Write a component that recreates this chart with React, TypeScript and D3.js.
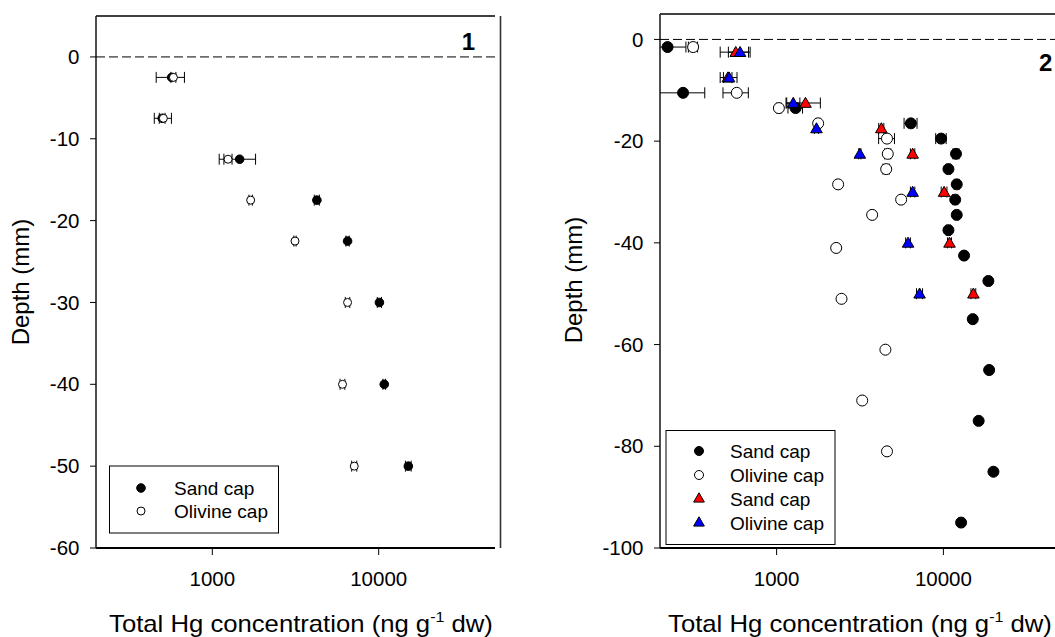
import React from "react";
import * as d3 from "d3";

// Panel 1: mean Hg concentration by depth for the two caps
const p1Depth = [-2.5, -7.5, -12.5, -17.5, -22.5, -30, -40, -50];
const p1Sand = [570, 500, 1460, 4250, 6500, 10100, 10800, 15070];
const p1SandErr = [110, 20, 360, 150, 150, 300, 200, 600];
const p1Olivine = [584, 508, 1244, 1700, 3140, 6500, 6060, 7130];
const p1OlivineErr = [20, 60, 70, 40, 50, 200, 200, 250];

// Panel 2: circle series
const p2SandDepth = [-1.5, -10.5, -13.5, -16.5, -19.5, -22.5, -25.5, -28.5, -31.5, -34.5, -37.5, -42.5, -47.5, -55, -65, -75, -85, -95];
const p2Sand = [222, 275, 1300, 6380, 9690, 11900, 10720, 12020, 11770, 12020, 10720, 13300, 18600, 15000, 18800, 16270, 19950, 12770];
const p2SandErr = [64, 96, 130, 570, 700, 500, 300, 400, 400, 300, 300, 300, 400, 300, 300, 300, 300, 300];

const p2OlivineDepth = [-1.5, -10.5, -13.5, -16.5, -19.5, -22.5, -25.5, -28.5, -31.5, -34.5, -41, -51, -61, -71, -81];
const p2Olivine = [316, 577, 1032, 1775, 4590, 4640, 4540, 2338, 5580, 3740, 2276, 2450, 4490, 3260, 4590];
const p2OlivineErr = [20, 100, 30, 50, 500, 200, 200, 50, 100, 50, 30, 30, 50, 50, 50];

// Panel 2: triangle series
const p2TriDepth = [-2.5, -7.5, -12.5, -17.5, -22.5, -30, -40, -50];
const p2SandTri = [569, 510, 1490, 4245, 6540, 10100, 10880, 15130];
const p2SandTriErr = [110, 30, 340, 150, 200, 400, 300, 500];
const p2OlivineTri = [604, 519, 1259, 1734, 3155, 6540, 6140, 7200];
const p2OlivineTriErr = [90, 60, 120, 50, 50, 200, 200, 300];

const p1YTicks = [0, -10, -20, -30, -40, -50, -60];
const p2YTicks = [0, -20, -40, -60, -80, -100];
const xTicks = [1000, 10000];
const legendLabels = ["Sand cap", "Olivine cap"];

const FONT = "'Liberation Sans', Arial, sans-serif";

type Pt = { v: number; d: number; e: number };
const zip = (vals: number[], depths: number[], errs: number[]): Pt[] =>
  vals.map((v, i) => ({ v, d: depths[i], e: errs[i] }));

const triPath = d3.symbol().type(d3.symbolTriangle).size(58)() as string;
const triLegend = d3.symbol().type(d3.symbolTriangle).size(50)() as string;

function ErrorBars({ pts, x, y, cap }: { pts: Pt[]; x: any; y: any; cap: number }) {
  const [lo] = x.domain();
  return (
    <g stroke="#000" strokeWidth={1}>
      {pts.map((p, i) => {
        const x0 = x(Math.max(p.v - p.e, lo));
        const x1 = x(p.v + p.e);
        const yy = y(p.d);
        return (
          <g key={i}>
            <line x1={x0} x2={x1} y1={yy} y2={yy} />
            {p.v - p.e > lo && <line x1={x0} x2={x0} y1={yy - cap} y2={yy + cap} />}
            <line x1={x1} x2={x1} y1={yy - cap} y2={yy + cap} />
          </g>
        );
      })}
    </g>
  );
}

function Circles({ pts, x, y, r, fill }: { pts: Pt[]; x: any; y: any; r: number; fill: string }) {
  return (
    <g>
      {pts.map((p, i) => (
        <circle key={i} cx={x(p.v)} cy={y(p.d)} r={r} fill={fill} stroke="#000" strokeWidth={1} />
      ))}
    </g>
  );
}

function Triangles({ pts, x, y, fill }: { pts: Pt[]; x: any; y: any; fill: string }) {
  return (
    <g>
      {pts.map((p, i) => (
        <path key={i} d={triPath} transform={`translate(${x(p.v)},${y(p.d) + 1})`} fill={fill} stroke="#000" strokeWidth={1} />
      ))}
    </g>
  );
}

function Axes({ x, y, yTicks, left, top, right, bottom, rightLine }: any) {
  return (
    <g fontFamily={FONT}>
      {/* frame */}
      <line x1={left} x2={right} y1={top} y2={top} stroke="#000" strokeWidth={1.3} />
      <line x1={left} x2={left} y1={top} y2={bottom} stroke="#222" strokeWidth={1.6} />
      <line x1={left} x2={right} y1={bottom} y2={bottom} stroke="#000" strokeWidth={1.8} />
      {rightLine != null && (
        <line x1={rightLine} x2={rightLine} y1={top} y2={bottom} stroke="#333" strokeWidth={1.6} />
      )}
      {/* zero line */}
      <line x1={left} x2={right} y1={y(0)} y2={y(0)} stroke="#000" strokeWidth={1} strokeDasharray="9,4" />
      {yTicks.map((t: number) => (
        <g key={t}>
          <line x1={left - 6} x2={left} y1={y(t)} y2={y(t)} stroke="#000" strokeWidth={1} />
          <text x={left - 16.5} y={y(t)} dy="0.35em" textAnchor="end" fontSize={20.5}>
            {t}
          </text>
        </g>
      ))}
      {xTicks.map((t) => (
        <g key={t}>
          <line x1={x(t)} x2={x(t)} y1={bottom} y2={bottom + 7} stroke="#000" strokeWidth={1} />
          <text x={x(t)} y={586} textAnchor="middle" fontSize={20.5}>
            {t}
          </text>
        </g>
      ))}
    </g>
  );
}

function XTitle({ cx }: { cx: number }) {
  return (
    <g transform={`translate(${cx},632) scale(1.07,1)`}>
      <text x={0} y={0} textAnchor="middle" fontFamily={FONT} fontSize={24}>
        Total Hg concentration (ng g
        <tspan fontSize={15} dy={-10}>-1</tspan>
        <tspan dy={10}> dw)</tspan>
      </text>
    </g>
  );
}

function YTitle({ x, cy }: { x: number; cy: number }) {
  return (
    <text transform={`translate(${x},${cy}) rotate(-90)`} textAnchor="middle" fontFamily={FONT} fontSize={24}>
      Depth (mm)
    </text>
  );
}

export default function App() {
  // Panel 1 scales
  const x1 = d3.scaleLog().domain([200, 50000]).range([96, 495]);
  const y1 = d3.scaleLinear().domain([5, -60]).range([16, 548]);
  // Panel 2 scales
  const x2 = d3.scaleLog().domain([200, 50000]).range([660, 1060]);
  const y2 = d3.scaleLinear().domain([5, -100]).range([14, 548]);

  const s1 = zip(p1Sand, p1Depth, p1SandErr);
  const o1 = zip(p1Olivine, p1Depth, p1OlivineErr);
  const s2 = zip(p2Sand, p2SandDepth, p2SandErr);
  const o2 = zip(p2Olivine, p2OlivineDepth, p2OlivineErr);
  const rs = zip(p2SandTri, p2TriDepth, p2SandTriErr);
  const bo = zip(p2OlivineTri, p2TriDepth, p2OlivineTriErr);

  return (
    <svg width={1055} height={637} style={{ position: "absolute", left: 0, top: 0, background: "#fff" }}>
      <rect width={1055} height={637} fill="#fff" />

      {/* Panel 1 */}
      <Axes x={x1} y={y1} yTicks={p1YTicks} left={96} top={16} right={495} bottom={548} rightLine={500.5} />
      <ErrorBars pts={s1} x={x1} y={y1} cap={5.5} />
      <ErrorBars pts={o1} x={x1} y={y1} cap={5.5} />
      <Circles pts={s1} x={x1} y={y1} r={4.3} fill="#000" />
      <Circles pts={o1} x={x1} y={y1} r={4} fill="#fff" />
      <text x={475} y={50} textAnchor="end" fontFamily={FONT} fontWeight="bold" fontSize={24}>1</text>
      <g fontFamily={FONT} fontSize={19}>
        <rect x={109.5} y={466} width={169} height={67} fill="#fff" stroke="#000" strokeWidth={1} />
        <circle cx={141} cy={488} r={4.3} fill="#000" stroke="#000" />
        <text x={174} y={488} dy="0.35em">{legendLabels[0]}</text>
        <circle cx={141} cy={511} r={4} fill="#fff" stroke="#000" />
        <text x={174} y={511} dy="0.35em">{legendLabels[1]}</text>
      </g>
      <XTitle cx={301} />
      <YTitle x={29} cy={282} />

      {/* Panel 2 */}
      <Axes x={x2} y={y2} yTicks={p2YTicks} left={660} top={14} right={1060} bottom={548} rightLine={null} />
      <ErrorBars pts={s2} x={x2} y={y2} cap={5.5} />
      <ErrorBars pts={o2} x={x2} y={y2} cap={5.5} />
      <ErrorBars pts={rs} x={x2} y={y2} cap={5.5} />
      <ErrorBars pts={bo} x={x2} y={y2} cap={5.5} />
      <Circles pts={s2} x={x2} y={y2} r={5.5} fill="#000" />
      <Circles pts={o2} x={x2} y={y2} r={5.5} fill="#fff" />
      <Triangles pts={rs} x={x2} y={y2} fill="#ff0000" />
      <Triangles pts={bo} x={x2} y={y2} fill="#0000ff" />
      <text x={1039} y={71} fontFamily={FONT} fontWeight="bold" fontSize={24}>2</text>
      <g fontFamily={FONT} fontSize={19}>
        <rect x={666} y={430.5} width={169} height={114} fill="#fff" stroke="#000" strokeWidth={1} />
        <circle cx={699} cy={451} r={4.5} fill="#000" stroke="#000" />
        <text x={730} y={451} dy="0.35em">{legendLabels[0]}</text>
        <circle cx={699} cy={475} r={4.5} fill="#fff" stroke="#000" />
        <text x={730} y={475} dy="0.35em">{legendLabels[1]}</text>
        <path d={triLegend} transform={`translate(699,499)`} fill="#ff0000" stroke="#000" />
        <text x={730} y={499} dy="0.35em">{legendLabels[0]}</text>
        <path d={triLegend} transform={`translate(699,523)`} fill="#0000ff" stroke="#000" />
        <text x={730} y={523} dy="0.35em">{legendLabels[1]}</text>
      </g>
      <XTitle cx={860} />
      <YTitle x={582} cy={280} />
    </svg>
  );
}
